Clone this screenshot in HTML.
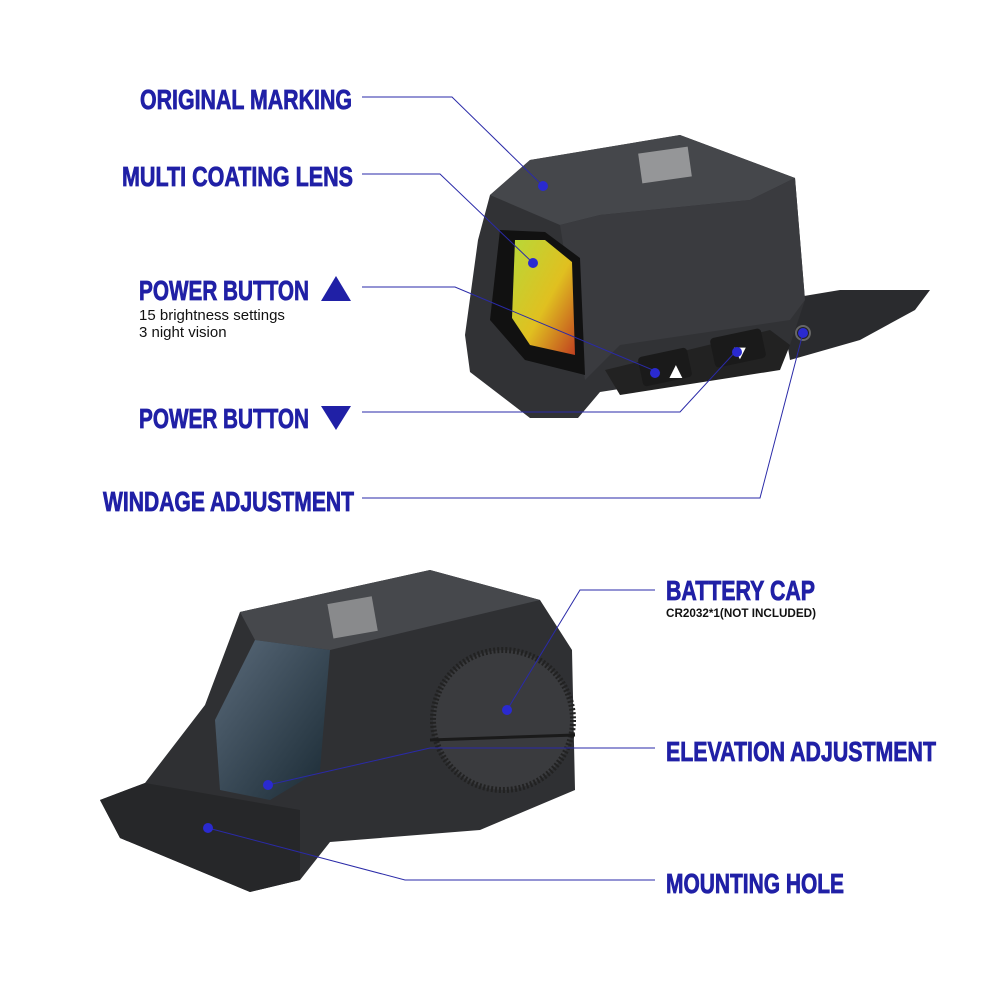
<!DOCTYPE html>
<html><head><meta charset="utf-8"><style>
html,body{margin:0;padding:0;background:#fff;width:1000px;height:1000px;overflow:hidden}
</style></head><body>
<svg width="1000" height="1000" viewBox="0 0 1000 1000" xmlns="http://www.w3.org/2000/svg">
<defs>
<linearGradient id="lens" x1="0" y1="0" x2="1" y2="1"><stop offset="0" stop-color="#b8d838"/><stop offset="0.55" stop-color="#e0c020"/><stop offset="1" stop-color="#c04020"/></linearGradient>
<linearGradient id="lens2" x1="0" y1="0" x2="1" y2="1"><stop offset="0" stop-color="#5a6a7a"/><stop offset="1" stop-color="#1a2a34"/></linearGradient>
</defs>
<!-- top sight -->
<polygon points="840,290 930,290 915,310 860,340 790,360 780,300" fill="#2a2b2e"/>
<polygon points="465,335 478,240 490,195 530,160 680,135 795,178 805,300 790,345 740,370 600,392 578,418 530,418 470,372" fill="#313235"/>
<polygon points="490,195 530,160 680,135 795,178 750,200 600,215 560,225" fill="#45474b"/>
<polygon points="560,225 600,215 750,200 795,178 805,300 790,320 620,345 585,380" fill="#3a3b3f"/>
<polygon points="500,230 545,232 580,258 585,375 525,360 490,320" fill="#111"/>
<polygon points="515,240 545,240 572,262 575,355 530,345 512,318" fill="url(#lens)"/>
<polygon points="605,370 770,330 790,345 780,370 620,395" fill="#222"/>
<rect x="640" y="352" width="50" height="30" rx="4" fill="#1a1a1a" transform="rotate(-12 665 367)"/>
<rect x="712" y="333" width="52" height="30" rx="4" fill="#1a1a1a" transform="rotate(-12 738 348)"/>
<text x="665" y="378" font-size="22" fill="#fff" font-family="Liberation Sans">▲</text>
<text x="730" y="359" font-size="20" fill="#fff" font-family="Liberation Sans">▼</text>
<circle cx="803" cy="333" r="7" fill="#222" stroke="#666" stroke-width="2"/>
<rect x="640" y="150" width="50" height="30" fill="#ccc" opacity="0.6" transform="rotate(-8 665 165)"/>
<!-- bottom sight -->
<polygon points="100,800 145,783 205,705 240,612 430,570 540,600 572,650 575,790 480,830 330,842 300,880 250,892 120,838" fill="#2f3033"/>
<polygon points="240,612 430,570 540,600 330,650 255,640" fill="#46484c"/>
<polygon points="255,640 330,650 320,770 270,800 220,790 215,720" fill="url(#lens2)"/>
<polygon points="100,800 145,783 300,810 300,880 250,892 120,838" fill="#262729"/>
<circle cx="503" cy="720" r="70" fill="#3a3b3e" stroke="#222" stroke-width="6" stroke-dasharray="2 2"/>
<line x1="430" y1="740" x2="575" y2="735" stroke="#1a1a1a" stroke-width="3"/>
<rect x="330" y="600" width="45" height="35" fill="#ccc" opacity="0.5" transform="rotate(-10 352 617)"/>
<!-- connectors -->
<g stroke="#2a2aa8" stroke-width="1" fill="none">
<polyline points="362,97 452,97 543,186"/>
<polyline points="362,174 440,174 533,263"/>
<polyline points="362,287 455,287 660,373"/>
<polyline points="362,412 680,412 737,350"/>
<polyline points="362,498 760,498 803,333"/>
<polyline points="655,590 580,590 507,710"/>
<polyline points="655,748 430,748 268,785"/>
<polyline points="655,880 405,880 208,828"/>
</g>
<g fill="#2a2ad0">
<circle cx="543" cy="186" r="5"/><circle cx="533" cy="263" r="5"/><circle cx="655" cy="373" r="5"/>
<circle cx="737" cy="352" r="5"/><circle cx="803" cy="333" r="5"/><circle cx="507" cy="710" r="5"/>
<circle cx="268" cy="785" r="5"/><circle cx="208" cy="828" r="5"/>
</g>
<!-- labels -->
<g font-family="Liberation Sans, sans-serif" font-weight="bold" fill="#2020a6" stroke="#2020a6" stroke-width="0.8" font-size="28">
<text x="140" y="109" textLength="212" lengthAdjust="spacingAndGlyphs">ORIGINAL MARKING</text>
<text x="122" y="186" textLength="231" lengthAdjust="spacingAndGlyphs">MULTI COATING LENS</text>
<text x="139" y="300" textLength="170" lengthAdjust="spacingAndGlyphs">POWER BUTTON</text>
<text x="139" y="428" textLength="170" lengthAdjust="spacingAndGlyphs">POWER BUTTON</text>
<text x="103" y="511" textLength="251" lengthAdjust="spacingAndGlyphs">WINDAGE ADJUSTMENT</text>
<text x="666" y="600" textLength="149" lengthAdjust="spacingAndGlyphs">BATTERY CAP</text>
<text x="666" y="761" textLength="270" lengthAdjust="spacingAndGlyphs">ELEVATION ADJUSTMENT</text>
<text x="666" y="893" textLength="178" lengthAdjust="spacingAndGlyphs">MOUNTING HOLE</text>
</g>
<text x="666" y="617" font-family="Liberation Sans, sans-serif" font-weight="bold" font-size="12" textLength="150" lengthAdjust="spacingAndGlyphs" fill="#111">CR2032*1(NOT INCLUDED)</text>
<polygon points="321,301 336,276 351,301" fill="#2020a6"/>
<polygon points="321,406 351,406 336,430" fill="#2020a6"/>
<g font-family="Liberation Sans, sans-serif" font-size="15" fill="#111">
<text x="139" y="320">15 brightness settings</text>
<text x="139" y="337">3 night vision</text>
</g>
</svg>
</body></html>
